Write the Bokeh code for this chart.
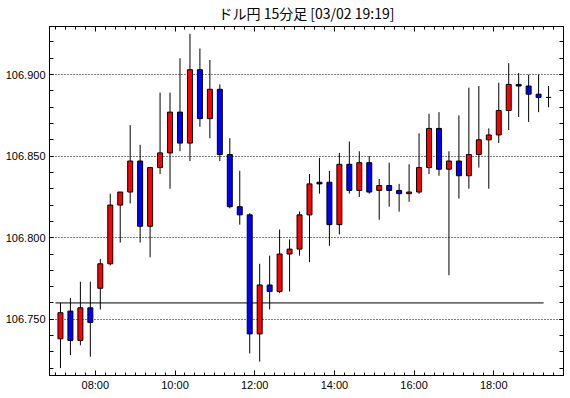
import pandas as pd
from bokeh.plotting import figure
from bokeh.models import (ColumnDataSource, LinearAxis, DatetimeAxis, FixedTicker, CustomLabelingPolicy,
                          SingleIntervalTicker, DatetimeTickFormatter, PrintfTickFormatter, Range1d)
from bokeh.embed import file_html
from bokeh.resources import INLINE

# ---------------- data ----------------
title_text = "ドル円 15分足 [03/02 19:19]"
session_date = "2020-03-02"
first_bar = "07:00"
bar_minutes = 15

opens = [106.738, 106.755, 106.737, 106.757, 106.769, 106.784, 106.820, 106.828, 106.847, 106.807,
         106.843, 106.852, 106.877, 106.858, 106.903, 106.873, 106.891, 106.851, 106.819, 106.814,
         106.741, 106.771, 106.767, 106.790, 106.793, 106.814, 106.834, 106.834, 106.808, 106.845,
         106.829, 106.846, 106.829, 106.832, 106.829, 106.827, 106.828, 106.843, 106.867, 106.842,
         106.847, 106.838, 106.851, 106.860, 106.863, 106.878, 106.894, 106.893, 106.888, 106.886]
highs = [106.760, 106.763, 106.773, 106.773, 106.787, 106.827, 106.828, 106.869, 106.857, 106.843,
         106.889, 106.889, 106.910, 106.925, 106.916, 106.909, 106.894, 106.861, 106.841, 106.815,
         106.784, 106.789, 106.805, 106.799, 106.816, 106.839, 106.849, 106.841, 106.852, 106.859,
         106.853, 106.850, 106.836, 106.846, 106.833, 106.845, 106.864, 106.876, 106.877, 106.853,
         106.875, 106.892, 106.893, 106.867, 106.895, 106.907, 106.901, 106.900, 106.900, 106.893]
lows = [106.720, 106.728, 106.734, 106.727, 106.756, 106.783, 106.797, 106.821, 106.797, 106.788,
        106.839, 106.830, 106.853, 106.847, 106.868, 106.861, 106.847, 106.818, 106.808, 106.729,
        106.724, 106.756, 106.766, 106.767, 106.789, 106.785, 106.827, 106.795, 106.802, 106.827,
        106.825, 106.827, 106.811, 106.819, 106.816, 106.822, 106.827, 106.839, 106.838, 106.777,
        106.824, 106.830, 106.843, 106.830, 106.858, 106.866, 106.874, 106.871, 106.877, 106.880]
closes = [106.754, 106.737, 106.757, 106.748, 106.784, 106.820, 106.828, 106.847, 106.807, 106.843,
          106.852, 106.877, 106.858, 106.903, 106.873, 106.891, 106.851, 106.819, 106.814, 106.741,
          106.771, 106.767, 106.790, 106.793, 106.814, 106.833, 106.833, 106.808, 106.845, 106.829,
          106.846, 106.828, 106.832, 106.829, 106.827, 106.828, 106.843, 106.867, 106.842, 106.847,
          106.838, 106.851, 106.860, 106.863, 106.878, 106.894, 106.893, 106.888, 106.886, 106.886]
ref_level = 106.760

x_tick_labels = ["08:00", "10:00", "12:00", "14:00", "16:00", "18:00"]
y_tick_step = 0.05
y_view = (106.7155, 106.9295)
x_view = ("06:51", "19:45")

# ---------------- derived ----------------
step = pd.Timedelta(minutes=bar_minutes)
start = pd.Timestamp(f"{session_date} {first_bar}")
bar_start = [start + i * step for i in range(len(opens))]
centers = [t + step / 2 for t in bar_start]
up_col, down_col = "#ff0000", "#0000ff"
colors = [up_col if c > o else (down_col if c < o else "#000000") for o, c in zip(opens, closes)]
tops = [max(o, c) for o, c in zip(opens, closes)]
bottoms = [min(o, c) for o, c in zip(opens, closes)]

src = ColumnDataSource(dict(x=centers, high=highs, low=lows, top=tops, bottom=bottoms, color=colors))

def ms(t):
    return t.value / 1e6

x0 = pd.Timestamp(f"{session_date} {x_view[0]}")
x1 = pd.Timestamp(f"{session_date} {x_view[1]}")

p = figure(width=570, height=398, x_axis_type="datetime", output_backend="svg",
           toolbar_location=None, x_range=Range1d(ms(x0), ms(x1)),
           y_range=Range1d(*y_view),
           min_border_left=49, min_border_right=5, min_border_top=24, min_border_bottom=23)
p.background_fill_color = "white"
p.border_fill_color = "white"
p.outline_line_color = "black"
p.outline_line_width = 1

p.title.text = title_text
p.title.align = "center"
p.title.text_font = "Noto Sans CJK JP"
p.title.text_font_size = "14px"
p.title.text_font_style = "normal"
p.title.text_color = "black"
p.title.standoff = 0
p.title.offset = 0

major_x = [ms(pd.Timestamp(f"{session_date} {lbl}")) for lbl in x_tick_labels]
minor_x = [ms(t) for t in pd.date_range(x0.floor("15min"), x1, freq="15min")]
xticker = FixedTicker(ticks=major_x, minor_ticks=minor_x)
yticker = SingleIntervalTicker(interval=y_tick_step, num_minor_ticks=5)

def hide_labels(ax):
    ax.major_label_policy = CustomLabelingPolicy(code="return []")
    ax.major_label_text_font_size = "1px"
    ax.major_label_standoff = 0

def style_x(ax, labels=True):
    ax.ticker = xticker
    ax.formatter = DatetimeTickFormatter(hours="%H:%M", minutes="%H:%M", hourmin="%H:%M")
    ax.major_tick_in = 5
    ax.major_tick_out = 0
    ax.minor_tick_in = 3
    ax.minor_tick_out = 0
    ax.axis_line_color = "black"
    ax.major_tick_line_color = "black"
    ax.minor_tick_line_color = "black"
    ax.major_label_text_font = "Liberation Sans"
    ax.major_label_text_font_size = "11px"
    ax.major_label_text_color = "black"
    ax.major_label_standoff = 3
    if not labels:
        hide_labels(ax)

def style_y(ax, labels=True):
    ax.ticker = yticker
    ax.formatter = PrintfTickFormatter(format="%.3f")
    ax.major_tick_in = 4
    ax.major_tick_out = 0
    ax.minor_tick_in = 4
    ax.minor_tick_out = 0
    ax.axis_line_color = "black"
    ax.major_tick_line_color = "black"
    ax.minor_tick_line_color = "black"
    ax.major_label_text_font = "Liberation Sans"
    ax.major_label_text_font_size = "11px"
    ax.major_label_text_color = "black"
    ax.major_label_standoff = 4
    if not labels:
        hide_labels(ax)

style_x(p.xaxis[0])
style_y(p.yaxis[0])
top_ax = DatetimeAxis()
style_x(top_ax, labels=False)
p.add_layout(top_ax, "above")
right_ax = LinearAxis()
style_y(right_ax, labels=False)
p.add_layout(right_ax, "right")

p.xgrid.visible = False
p.ygrid.ticker = yticker
p.ygrid.grid_line_color = "black"
p.ygrid.grid_line_dash = "1 2"
p.ygrid.grid_line_width = 1

# reference level line
p.line(x=[bar_start[0], bar_start[-1]], y=[ref_level, ref_level], line_color="black", line_width=1)

# wicks and bodies
p.segment(x0="x", y0="low", x1="x", y1="high", source=src, line_color="black", line_width=1)
p.vbar(x="x", top="top", bottom="bottom", width=step.total_seconds() * 1000 * 0.5,
       source=src, fill_color="color", line_color="black", line_width=1)

open("out.html", "w").write(file_html(p, INLINE))
